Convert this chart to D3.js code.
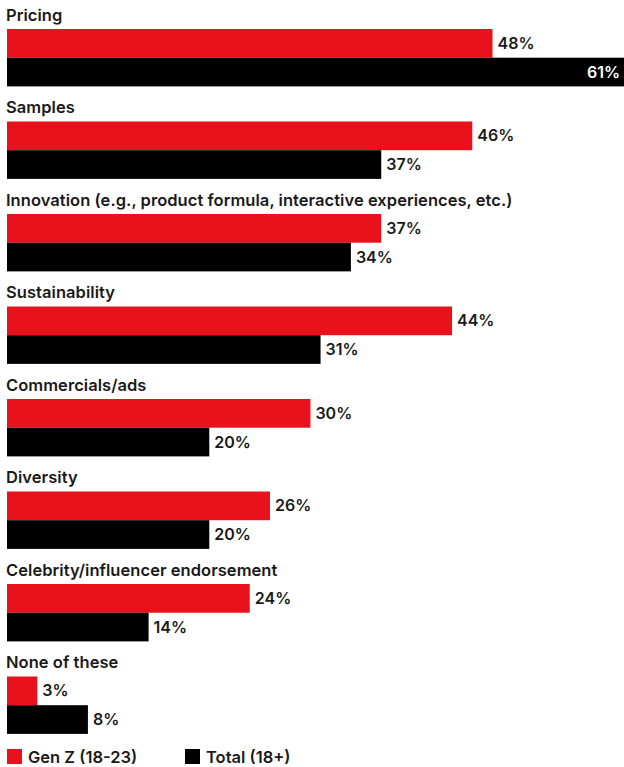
<!DOCTYPE html>
<html>
<head>
<meta charset="utf-8">
<script src="https://cdn.jsdelivr.net/npm/d3@7"></script>
<style>
  body { margin: 0; background: #fff; }
  svg text { font-family: Inter, "Noto Sans", sans-serif; }
  .cat { font-size: 16.5px; font-weight: 600; fill: #1a1a1a; letter-spacing: 0.05px; }
  .val { font-size: 16px; font-weight: 600; fill: #1a1a1a; }
  .leg { font-size: 16.5px; font-weight: 600; fill: #1a1a1a; }
</style>
</head>
<body>
<script>
// data
var categories = ["Pricing", "Samples", "Innovation (e.g., product formula, interactive experiences, etc.)",
  "Sustainability", "Commercials/ads", "Diversity", "Celebrity/influencer endorsement", "None of these"];
var genZ = [48, 46, 37, 44, 30, 26, 24, 3];
var total = [61, 37, 34, 31, 20, 20, 14, 8];
var seriesNames = ["Gen Z (18-23)", "Total (18+)"];
var colors = ["#e8111c", "#000000"];

var W = 624, H = 767;
var svg = d3.select("body").append("svg").attr("width", W).attr("height", H);

var x = d3.scaleLinear().domain([0, 61]).range([7, 624]);
var groupTop = d3.scaleBand().domain(d3.range(categories.length)).range([0, 740]).paddingInner(0).paddingOuter(0);
var barH = 28.7;
var labelSpace = 28.5;

var g = svg.selectAll("g.grp")
  .data(categories)
  .enter().append("g")
  .attr("class", "grp")
  .attr("transform", function(d, i) { return "translate(0," + (groupTop(i) + 0.5) + ")"; });

g.append("text")
  .attr("class", "cat")
  .attr("x", 6)
  .attr("y", 20)
  .text(function(d) { return d; });

[genZ, total].forEach(function(vals, s) {
  g.append("rect")
    .attr("x", x(0))
    .attr("y", labelSpace + s * barH)
    .attr("width", function(d, i) { return x(vals[i]) - x(0); })
    .attr("height", barH)
    .attr("fill", colors[s]);

  g.append("text")
    .attr("class", "val")
    .attr("x", function(d, i) {
      // biggest bar runs to the edge, label goes inside
      return vals[i] >= 55 ? x(vals[i]) - 4 : x(vals[i]) + 5;
    })
    .attr("y", labelSpace + s * barH + barH / 2 + 5.5)
    .attr("text-anchor", function(d, i) { return vals[i] >= 55 ? "end" : "start"; })
    .style("fill", function(d, i) { return vals[i] >= 55 ? "#fff" : null; })
    .text(function(d, i) { return vals[i] + "%"; });
});

// legend
var legX = [7, 185];
seriesNames.forEach(function(name, s) {
  svg.append("rect")
    .attr("x", legX[s]).attr("y", 749)
    .attr("width", 15).attr("height", 15)
    .attr("fill", colors[s]);
  svg.append("text")
    .attr("class", "leg")
    .attr("x", legX[s] + 21).attr("y", 763)
    .text(name);
});
</script>
</body>
</html>
